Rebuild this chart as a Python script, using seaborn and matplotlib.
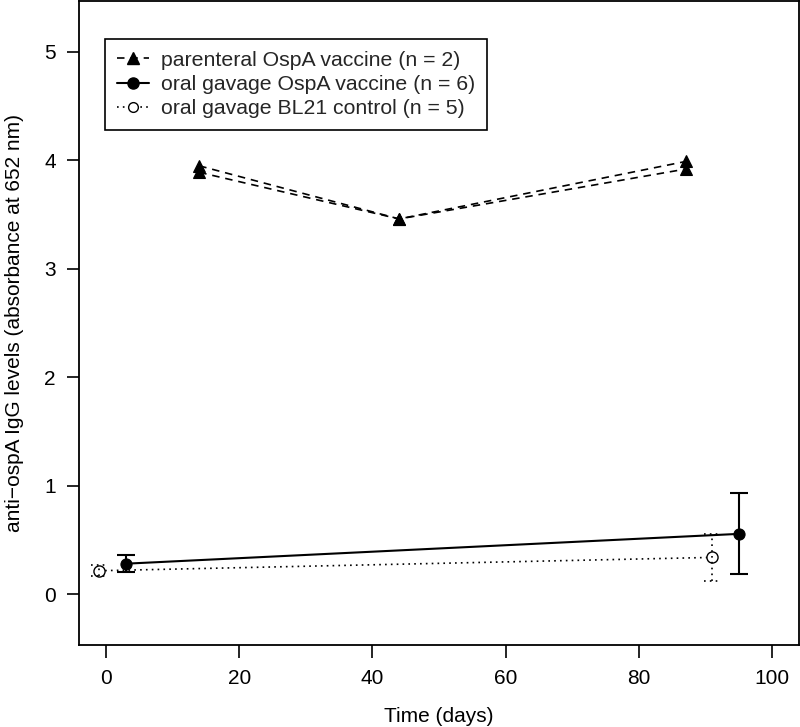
import numpy as np
import pandas as pd
import matplotlib
matplotlib.use("Agg")
import matplotlib.pyplot as plt
import seaborn as sns
from matplotlib.lines import Line2D

# ---- data ----
par_days = [14, 44, 87]
par_mouse1 = [3.95, 3.46, 3.99]
par_mouse2 = [3.89, 3.46, 3.92]

oral_days = [3, 95]
oral_mean = [0.28, 0.555]
oral_err = [0.077, 0.374]

ctrl_days = [-1, 91]
ctrl_mean = [0.215, 0.338]
ctrl_err = [0.05, 0.218]

legend_labels = ["parenteral OspA vaccine (n = 2)",
                 "oral gavage OspA vaccine (n = 6)",
                 "oral gavage BL21 control (n = 5)"]
x_ticks = [0, 20, 40, 60, 80, 100]
y_ticks = [0, 1, 2, 3, 4, 5]
x_label = "Time (days)"
y_label = "anti\u2212ospA IgG levels (absorbance at 652 nm)"

# ---- style ----
sns.set_theme(style="ticks")
plt.rcParams['font.family'] = ['Liberation Sans', 'DejaVu Sans']
plt.rcParams['font.size'] = 15

fig = plt.figure(figsize=(8, 7.27), dpi=100)
ax = fig.add_axes([0.0991, 0.1128, 0.8996, 0.8858])

LW = 1.2
dash = (0, (4.5, 3.5))
dot = (0, (1, 2.5))

par_df = pd.DataFrame({
    "day": par_days * 2,
    "value": par_mouse1 + par_mouse2,
    "mouse": ["m1"] * len(par_days) + ["m2"] * len(par_days),
})
for m, sub in par_df.groupby("mouse"):
    sns.lineplot(data=sub, x="day", y="value", ax=ax, estimator=None,
                 color="black", linestyle=dash, linewidth=LW,
                 marker="^", markersize=9, markerfacecolor="black",
                 markeredgecolor="black", markeredgewidth=0.8, zorder=3)

# control (dotted)
ctrl_days_a = np.array(ctrl_days, dtype=float)
ctrl_mean_a = np.array(ctrl_mean)
ctrl_err_a = np.array(ctrl_err)
cap = 1.3
sns.lineplot(x=ctrl_days, y=ctrl_mean, ax=ax, estimator=None,
             color="black", linestyle=dot, linewidth=LW,
             marker="o", markersize=8, markerfacecolor="white",
             markeredgecolor="black", markeredgewidth=1.0, zorder=2)
ax.vlines(ctrl_days_a, ctrl_mean_a - ctrl_err_a, ctrl_mean_a + ctrl_err_a,
          colors="black", linestyles=dot, linewidth=LW, zorder=3)
ax.hlines(np.concatenate([ctrl_mean_a - ctrl_err_a, ctrl_mean_a + ctrl_err_a]),
          np.concatenate([ctrl_days_a - cap] * 2),
          np.concatenate([ctrl_days_a + cap] * 2),
          colors="black", linestyles=dot, linewidth=LW, zorder=3)

# oral vaccine (solid)
ax.errorbar(oral_days, oral_mean, yerr=oral_err, fmt="none", ecolor="black",
            elinewidth=1.5, capsize=6.5, capthick=1.5, zorder=4)
sns.lineplot(x=oral_days, y=oral_mean, ax=ax, estimator=None,
             color="black", linestyle="-", linewidth=1.5,
             marker="o", markersize=8, markerfacecolor="black",
             markeredgecolor="black", markeredgewidth=0.8, zorder=5)

ax.set_xlim(-4, 104)
ax.set_ylim(-0.47, 5.47)
ax.set_xticks(x_ticks)
ax.set_yticks(y_ticks)
ax.set_xticklabels([str(v) for v in x_ticks])
ax.set_yticklabels([str(v) for v in y_ticks])
ax.tick_params(axis="both", direction="out", length=9, width=1.2,
               colors="black", labelsize=15, pad=8)
for s in ax.spines.values():
    s.set_visible(True)
    s.set_linewidth(1.3)
    s.set_color("black")
ax.set_xlabel(x_label, fontsize=15, labelpad=14, color="black")
ax.set_ylabel(y_label, fontsize=15, labelpad=14, color="black")
ax.grid(False)

handles = [
    Line2D([], [], color="black", linestyle=dash, linewidth=LW, marker="^",
           markersize=9, markerfacecolor="black", markeredgecolor="black"),
    Line2D([], [], color="black", linestyle="-", linewidth=1.5, marker="o",
           markersize=8, markerfacecolor="black", markeredgecolor="black"),
    Line2D([], [], color="black", linestyle=dot, linewidth=LW, marker="o",
           markersize=7, markerfacecolor="white", markeredgecolor="black"),
]
leg = ax.legend(handles, legend_labels, loc="upper left",
                bbox_to_anchor=(0.0357, 0.941), borderaxespad=0,
                frameon=True, fancybox=False, framealpha=1,
                edgecolor="black", fontsize=15.3, handlelength=1.5,
                handletextpad=0.6, labelspacing=0.25, borderpad=0.55)
leg.get_frame().set_linewidth(1.2)

fig.savefig("out.png", dpi=100)
